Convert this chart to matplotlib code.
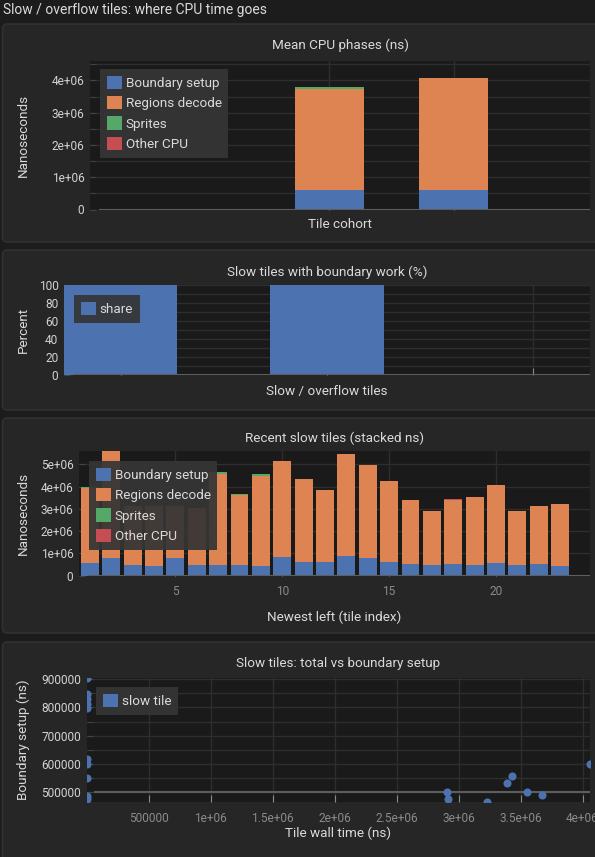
import matplotlib
matplotlib.use("Agg")
import matplotlib.pyplot as plt
from matplotlib.patches import FancyBboxPatch, Patch
from matplotlib.transforms import IdentityTransform
from matplotlib.ticker import MultipleLocator, FuncFormatter
import numpy as np

W, H = 595, 857

# colours
BG = "#1c1c1c"
CARD = "#262626"
CARD_EDGE = "#313131"
PLOT_BG = "#1a1a1a"
GRID = "#2e2e2e"
BASE = "#5e5e5e"
TXT = "#dadada"
TICK_TXT = "#d2d2d2"
LEG_BG = "#353535"

phase_names = ["Boundary setup", "Regions decode", "Sprites", "Other CPU"]
phase_colors = ["#4c72b0", "#dd8452", "#55a868", "#c44e52"]

# panel 1: mean cpu phases per cohort
cohorts = ["slow", "overflow"]
cohort_boundary = [0.60e6, 0.60e6]
cohort_regions = [3.14e6, 3.47e6]
cohort_sprites = [0.05e6, 0.0]
cohort_other = [0.0, 0.0]

# panel 2: share of slow tiles with boundary work
share_groups = ["slow", "overflow", "normal"]
share_pct = [100, 100, 1.5]

# panel 3: recent slow tiles, newest left
tile_index = list(range(1, 24))
tile_boundary = [0.58, 0.79, 0.48, 0.43, 0.79, 0.48, 0.48, 0.48, 0.43, 0.84, 0.61, 0.61,
                 0.88, 0.79, 0.61, 0.52, 0.48, 0.52, 0.48, 0.57, 0.48, 0.52, 0.43]
tile_regions = [3.37, 4.81, 2.66, 2.71, 2.35, 2.57, 4.07, 3.14, 4.05, 4.31, 3.73, 3.24,
                4.58, 4.18, 3.64, 2.88, 2.42, 2.88, 3.05, 3.50, 2.42, 2.61, 2.79]
tile_sprites = [0.04, 0, 0, 0, 0, 0, 0.11, 0.05, 0.09, 0, 0, 0,
                0, 0, 0, 0, 0, 0, 0, 0, 0, 0, 0]
tile_other = [0, 0, 0, 0, 0, 0, 0, 0, 0, 0, 0, 0,
              0, 0, 0, 0, 0, 0.06, 0, 0, 0, 0, 0]

# panel 4: wall time vs boundary setup
wall_ns = [0, 0, 0, 0, 0, 0, 0, 0, 0, 0,
           2.907e6, 2.915e6, 3.228e6, 3.39e6, 3.43e6, 3.55e6, 3.67e6, 4.06e6]
boundary_ns = [903000, 847000, 829000, 812000, 798000, 617000, 601000, 552000, 487000, 476000,
               500000, 475000, 467000, 532000, 558000, 502000, 491000, 599000]

plt.rcParams['font.family'] = ['Roboto', 'DejaVu Sans']

FS = 9.7
TICK_FS = 8.6

fig = plt.figure(figsize=(W / 100, H / 100), dpi=100, facecolor=BG)

# cards behind every panel (pixel coords, top/bottom from top of image)
for top, bottom in [(24, 242), (250, 410), (418, 633), (642, 880)]:
    card = FancyBboxPatch((2.5, H - bottom), 640, bottom - top,
                          boxstyle="round,pad=0,rounding_size=5",
                          transform=IdentityTransform(), facecolor=CARD,
                          edgecolor=CARD_EDGE, linewidth=1.2, zorder=0)
    fig.add_artist(card)

fig.text(3 / W, 1 - 10 / H, "Slow / overflow tiles: where CPU time goes",
         color=TXT, fontsize=10, ha="left", va="center")

gfmt = FuncFormatter(lambda v, p: "%g" % v)


def make_axes(l, t, r, b, title, title_y, xlabel, xlabel_y, ylabel, ylabel_x):
    ax = fig.add_axes([l / W, 1 - b / H, (r - l) / W, (b - t) / H])
    ax.set_facecolor(PLOT_BG)
    for s in ax.spines.values():
        s.set_visible(False)
    ax.set_axisbelow(True)
    ax.tick_params(which="both", colors="#444444", labelcolor=TICK_TXT,
                   labelsize=TICK_FS, direction="in", length=4, pad=4)
    ax.tick_params(axis="x", colors="#8a8a8a", length=5, pad=7)
    ax.tick_params(axis="x", which="minor", length=0)
    cx = (l + r) / 2 / W
    fig.text(cx, 1 - title_y / H, title, color=TXT, fontsize=FS, ha="center", va="center")
    fig.text(cx, 1 - xlabel_y / H, xlabel, color=TXT, fontsize=FS, ha="center", va="center")
    fig.text(ylabel_x / W, 1 - ((t + b) / 2) / H, ylabel, color=TXT, fontsize=FS,
             ha="center", va="center", rotation=90)
    return ax


def add_legend(ax, names, colors, x, y):
    handles = [Patch(facecolor=c, edgecolor="none") for c in colors]
    leg = ax.legend(handles, names, loc="upper left",
                    bbox_to_anchor=(x / W, 1 - y / H), bbox_transform=fig.transFigure,
                    borderaxespad=0, frameon=True, fancybox=False, facecolor=LEG_BG,
                    edgecolor="none", framealpha=0.93, fontsize=FS, labelcolor=TXT,
                    handlelength=1.15, handleheight=1.15, handletextpad=0.25,
                    borderpad=0.5, labelspacing=0.45)
    leg.set_zorder(5)
    return leg


def stack(ax, x, layers, width):
    bottom = np.zeros(len(x))
    for vals, col in zip(layers, phase_colors):
        vals = np.asarray(vals, dtype=float)
        ax.bar(x, vals, width, bottom=bottom, color=col, zorder=2, linewidth=0)
        bottom += vals


# ---- panel 1
ax1 = make_axes(90, 61, 590, 209.5, "Mean CPU phases (ns)", 45, "Tile cohort", 225,
                "Nanoseconds", 23.5)
x1 = np.arange(len(cohorts))
stack(ax1, x1, [cohort_boundary, cohort_regions, cohort_sprites, cohort_other], 0.555)
ax1.set_xlim(-1.93, 2.10)
ax1.set_ylim(0, 4.6e6)
ax1.set_xticks(x1)
ax1.tick_params(axis="x", labelbottom=False)
ax1.yaxis.set_major_locator(MultipleLocator(1e6))
ax1.yaxis.set_minor_locator(MultipleLocator(0.5e6))
ax1.yaxis.set_major_formatter(gfmt)
ax1.grid(True, which="both", color=GRID, linewidth=1)
ax1.axhline(0, xmin=0.02, color=BASE, linewidth=1.5, zorder=3)
add_legend(ax1, phase_names, phase_colors, 100, 69)

# ---- panel 2
ax2 = make_axes(64, 285, 590, 375, "Slow tiles with boundary work (%)", 272,
                "Slow / overflow tiles", 391, "Percent", 23)
x2 = np.arange(len(share_groups))
ax2.bar(x2, share_pct, 0.55, color=phase_colors[0], zorder=2, linewidth=0)
ax2.set_xlim(-0.275, 2.275)
ax2.set_ylim(0, 100)
ax2.set_xticks(x2)
ax2.tick_params(axis="x", labelbottom=False)
ax2.yaxis.set_major_locator(MultipleLocator(20))
ax2.yaxis.set_minor_locator(MultipleLocator(10))
ax2.yaxis.set_major_formatter(gfmt)
ax2.grid(True, which="both", color=GRID, linewidth=1)
ax2.axhline(0, xmin=0.02, color=BASE, linewidth=1.5, zorder=3)
add_legend(ax2, ["share"], [phase_colors[0]], 74, 295)

# ---- panel 3
ax3 = make_axes(79, 451, 590, 575.7, "Recent slow tiles (stacked ns)", 438,
                "Newest left (tile index)", 617, "Nanoseconds", 23.5)
stack(ax3, np.array(tile_index),
      [np.array(tile_boundary) * 1e6, np.array(tile_regions) * 1e6,
       np.array(tile_sprites) * 1e6, np.array(tile_other) * 1e6], 0.84)
ax3.set_xlim(0.49, 24.4)
ax3.set_ylim(0, 5.6e6)
ax3.xaxis.set_major_locator(MultipleLocator(5))
ax3.yaxis.set_major_locator(MultipleLocator(1e6))
ax3.xaxis.set_major_formatter(gfmt)
ax3.yaxis.set_major_formatter(gfmt)
ax3.grid(True, which="major", color=GRID, linewidth=1)
ax3.axhline(0, xmin=0.02, color=BASE, linewidth=1.5, zorder=3)
add_legend(ax3, phase_names, phase_colors, 89, 461)

# ---- panel 4
ax4 = make_axes(86.7, 678, 590, 802, "Slow tiles: total vs boundary setup", 663,
                "Tile wall time (ns)", 833, "Boundary setup (ns)", 23.5)
ax4.scatter(wall_ns, boundary_ns, s=34, color=phase_colors[0], zorder=3, linewidths=0)
ax4.set_xlim(0, 4.06e6)
ax4.set_ylim(466000, 903500)
ax4.set_xticks(np.arange(500000, 4.01e6, 500000))
ax4.yaxis.set_major_locator(MultipleLocator(100000))
ax4.yaxis.set_minor_locator(MultipleLocator(50000))
ax4.xaxis.set_major_formatter(gfmt)
ax4.yaxis.set_major_formatter(gfmt)
ax4.grid(True, which="both", color=GRID, linewidth=1)
ax4.axhline(500000, xmin=0.017, color=BASE, linewidth=1.5, zorder=2)
add_legend(ax4, ["slow tile"], [phase_colors[0]], 96, 687)

fig.savefig("out.png", dpi=100, facecolor=BG)
